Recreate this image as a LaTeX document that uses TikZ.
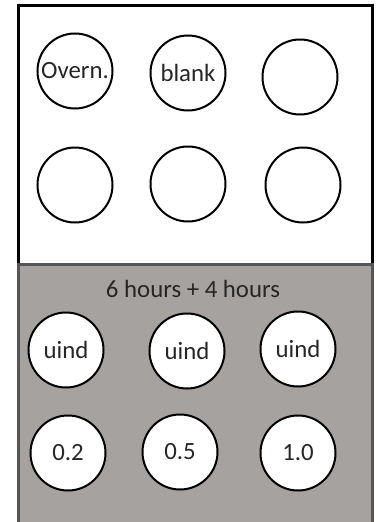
\documentclass[tikz,border=0pt]{standalone}
\usepackage{fontspec}
\setmainfont{Carlito}
\definecolor{plategray}{HTML}{A5A2A0}
\definecolor{plateedge}{HTML}{555555}
\definecolor{txt}{HTML}{262626}
\begin{document}
\begin{tikzpicture}[x=1pt,y=-1pt,
  well/.style={circle,draw=black,line width=2pt,fill=white,minimum size=75pt,inner sep=0pt,
    font=\fontsize{24.8}{26}\selectfont,text=txt},
  lbl/.style={font=\fontsize{24.8}{26}\selectfont,text=txt}]
\useasboundingbox (0,0) rectangle (380,522);
% gray lower plate
\draw[fill=plategray,draw=plateedge,line width=2.5pt] (18.5,534) -- (18.5,264.5) -- (372.5,264.5) -- (372.5,534);
% white upper plate
\draw[black,line width=2.5pt,fill=white] (18.5,5.5) rectangle (372.5,264.5);
\draw[plateedge,line width=2.5pt] (17.25,264.5) -- (373.75,264.5);
% top wells
\node[well] (a1) at (75,71) {Overn.};
\node[well] (a2) at (188,73) {blank};
\node[well] (a3) at (300,77) {};
\node[well] (b1) at (75,185) {};
\node[well] (b2) at (188,184) {};
\node[well] (b3) at (303,185) {};
% lower plate
\node[lbl] (title) at (193,289) {6 hours + 4 hours};
\node[well] (c1) at (66,350) {uind};
\node[well] (c2) at (187,351) {uind};
\node[well] (c3) at (298,349) {uind};
\node[well] (d1) at (68,453) {0.2};
\node[well] (d2) at (180,452) {0.5};
\node[well] (d3) at (298,453) {1.0};
\end{tikzpicture}
\end{document}
